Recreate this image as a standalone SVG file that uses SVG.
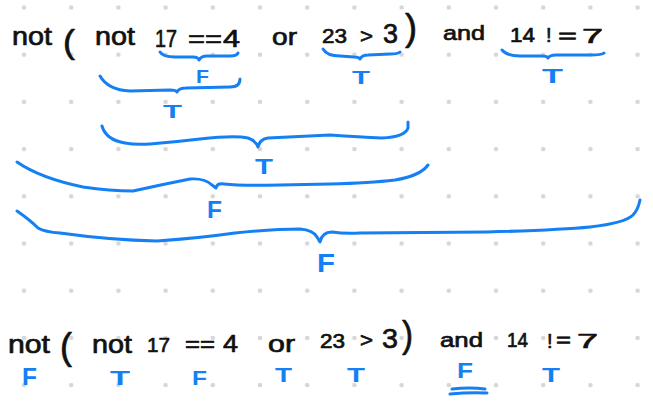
<svg xmlns="http://www.w3.org/2000/svg" width="653" height="409" viewBox="0 0 653 409">
<style>
.k{font-family:"Liberation Sans",Arial,sans-serif;fill:#111;stroke:#111;stroke-width:0.7;stroke-linejoin:round}
.b{font-family:"Liberation Sans",Arial,sans-serif;font-weight:bold;fill:#1480f4}
.br{fill:none;stroke:#1480f4;stroke-width:3;stroke-linecap:round;stroke-linejoin:round}
</style>
<defs>
<pattern id="dots" patternUnits="userSpaceOnUse" x="0.4" y="-16.1" width="47.2" height="47.2">
<circle cx="23.6" cy="23.6" r="2.3" fill="#d6d6d6"/>
</pattern>
</defs>
<rect width="653" height="409" fill="#fff"/>
<rect width="653" height="409" fill="url(#dots)"/>

<g id="expr-top">
<text class="k" x="12" y="45" font-size="25" textLength="40" lengthAdjust="spacingAndGlyphs">not</text>
<text class="k" x="63" y="53" font-size="34" textLength="12" lengthAdjust="spacingAndGlyphs">(</text>
<text class="k" x="95" y="45" font-size="25" textLength="40" lengthAdjust="spacingAndGlyphs">not</text>
<text class="k" x="155" y="47" font-size="24" textLength="22" lengthAdjust="spacingAndGlyphs">17</text>
<text class="k" x="188" y="47" font-size="24" textLength="34" lengthAdjust="spacingAndGlyphs">==</text>
<text class="k" x="223" y="47" font-size="24" textLength="17" lengthAdjust="spacingAndGlyphs">4</text>
<text class="k" x="272" y="45" font-size="24" textLength="25" lengthAdjust="spacingAndGlyphs">or</text>
<text class="k" x="322" y="43" font-size="21" textLength="25" lengthAdjust="spacingAndGlyphs">23</text>
<text class="k" x="360" y="43" font-size="21" textLength="13" lengthAdjust="spacingAndGlyphs">&gt;</text>
<text class="k" x="383" y="43" font-size="27" textLength="15" lengthAdjust="spacingAndGlyphs">3</text>
<text class="k" x="405" y="40" font-size="36" textLength="12" lengthAdjust="spacingAndGlyphs">)</text>
<text class="k" x="443" y="40" font-size="21" textLength="42" lengthAdjust="spacingAndGlyphs">and</text>
<text class="k" x="510" y="42" font-size="20" textLength="25" lengthAdjust="spacingAndGlyphs">14</text>
<text class="k" x="546" y="42" font-size="20">!</text>
<text class="k" x="558" y="43" font-size="21" textLength="19" lengthAdjust="spacingAndGlyphs">=</text>
<text class="k" x="582" y="43" font-size="21" textLength="21" lengthAdjust="spacingAndGlyphs">7</text>
</g>

<g id="connectors">
<path class="br" d="M160,52 Q163,57 175,57 L193,57 Q198,57 199,60 Q201,56 207,56 L230,56 Q237,56 238,53"/>
<path class="br" d="M323,49 Q327,56 340,56 L354,57 Q359,57 360,59 Q362,55 368,55 L390,54 Q398,54 400,52"/>
<path class="br" d="M502,50 Q507,56 520,56 L542,56 Q547,56 548,58 Q550,55 556,55 L590,55 Q602,55 604,53"/>
<path class="br" d="M100,76 Q108,90 130,91 L170,90 Q176,90 177,92 Q179,88 186,88 L230,87 Q240,87 240,79"/>
<path class="br" d="M102,126 Q106,140 125,143 Q135,145 150,144 Q175,142 200,139 Q235,135 248,138 Q256,141 258,147 Q260,139 268,138 L330,135 Q360,137 382,138 Q405,137 408,128 L408,122"/>
<path class="br" d="M17,162 Q40,178 83,187 Q110,191 133,191 Q160,185 190,179 Q205,178 212,185 L216,188 Q217,183 224,184 Q240,186 280,185 L330,184 Q370,183 395,180 Q420,176 428,165"/>
<path class="br" d="M17,211 Q30,220 38,228 Q45,232 60,233 Q110,240 157,241 Q200,238 235,233 Q275,229 300,229 Q313,230 317,237 L320,242 Q322,232 332,232 Q345,234 360,233 L487,232 Q560,230 590,227 Q625,223 633,215 Q638,210 640,200"/>
</g>

<g id="labels-top">
<text class="b" x="196" y="83" font-size="18" textLength="13" lengthAdjust="spacingAndGlyphs">F</text>
<text class="b" x="352" y="84" font-size="19" textLength="18" lengthAdjust="spacingAndGlyphs">T</text>
<text class="b" x="542" y="83" font-size="20" textLength="21" lengthAdjust="spacingAndGlyphs">T</text>
<text class="b" x="163" y="118" font-size="18" textLength="19" lengthAdjust="spacingAndGlyphs">T</text>
<text class="b" x="255" y="174" font-size="22" textLength="18" lengthAdjust="spacingAndGlyphs">T</text>
<text class="b" x="207" y="218" font-size="23" textLength="15" lengthAdjust="spacingAndGlyphs">F</text>
<text class="b" x="317" y="272" font-size="26" textLength="18" lengthAdjust="spacingAndGlyphs">F</text>
</g>

<g id="expr-bottom">
<text class="k" x="8" y="353" font-size="25" textLength="42" lengthAdjust="spacingAndGlyphs">not</text>
<text class="k" x="60" y="359" font-size="37" textLength="12" lengthAdjust="spacingAndGlyphs">(</text>
<text class="k" x="92" y="353" font-size="25" textLength="40" lengthAdjust="spacingAndGlyphs">not</text>
<text class="k" x="147" y="352" font-size="21" textLength="23" lengthAdjust="spacingAndGlyphs">17</text>
<text class="k" x="185" y="352" font-size="22" textLength="30" lengthAdjust="spacingAndGlyphs">==</text>
<text class="k" x="223" y="352" font-size="23" textLength="15" lengthAdjust="spacingAndGlyphs">4</text>
<text class="k" x="268" y="352" font-size="24" textLength="27" lengthAdjust="spacingAndGlyphs">or</text>
<text class="k" x="320" y="348" font-size="20" textLength="25" lengthAdjust="spacingAndGlyphs">23</text>
<text class="k" x="360" y="347" font-size="20" textLength="13" lengthAdjust="spacingAndGlyphs">&gt;</text>
<text class="k" x="382" y="348" font-size="27" textLength="16" lengthAdjust="spacingAndGlyphs">3</text>
<text class="k" x="402" y="347" font-size="37" textLength="11" lengthAdjust="spacingAndGlyphs">)</text>
<text class="k" x="440" y="347" font-size="21" textLength="43" lengthAdjust="spacingAndGlyphs">and</text>
<text class="k" x="507" y="347" font-size="20" textLength="21" lengthAdjust="spacingAndGlyphs">14</text>
<text class="k" x="547" y="348" font-size="20">!</text>
<text class="k" x="556" y="347" font-size="20" textLength="15" lengthAdjust="spacingAndGlyphs">=</text>
<text class="k" x="577" y="348" font-size="21" textLength="21" lengthAdjust="spacingAndGlyphs">7</text>
</g>

<g id="labels-bottom">
<text class="b" x="22" y="385" font-size="23" textLength="15" lengthAdjust="spacingAndGlyphs">F</text>
<text class="b" x="110" y="385" font-size="21" textLength="20" lengthAdjust="spacingAndGlyphs">T</text>
<text class="b" x="192" y="385" font-size="21" textLength="15" lengthAdjust="spacingAndGlyphs">F</text>
<text class="b" x="275" y="382" font-size="21" textLength="17" lengthAdjust="spacingAndGlyphs">T</text>
<text class="b" x="347" y="382" font-size="20" textLength="18" lengthAdjust="spacingAndGlyphs">T</text>
<text class="b" x="457" y="378" font-size="22" textLength="16" lengthAdjust="spacingAndGlyphs">F</text>
<path class="br" d="M452,389 Q470,387 485,389 M450,394 Q470,392 487,393"/>
<text class="b" x="542" y="382" font-size="20" textLength="18" lengthAdjust="spacingAndGlyphs">T</text>
</g>
</svg>
